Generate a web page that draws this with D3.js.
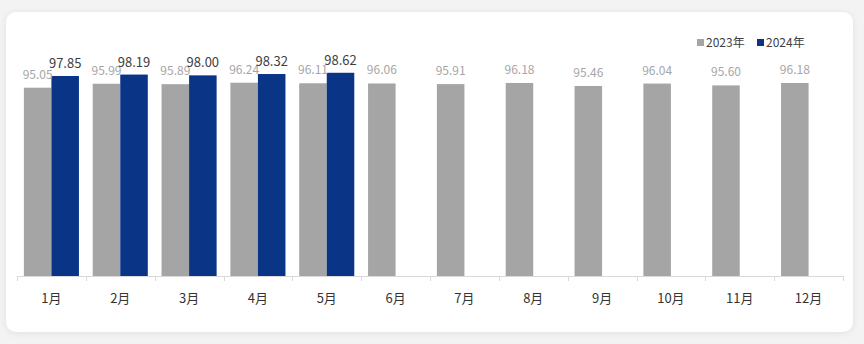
<!DOCTYPE html>
<html>
<head>
<meta charset="utf-8">
<script src="https://cdn.jsdelivr.net/npm/d3@7"></script>
<style>
  html, body { margin: 0; padding: 0; background: #f3f3f3; }
  svg { display: block; }
  text { font-family: "Noto Sans CJK SC", "Microsoft YaHei", sans-serif; }
</style>
</head>
<body>
<svg id="chart" width="864" height="344"></svg>
<script>
// Monthly values, two years
const months = ["1月","2月","3月","4月","5月","6月","7月","8月","9月","10月","11月","12月"];
const seriesNames = ["2023年", "2024年"];
const values2023 = [95.05, 95.99, 95.89, 96.24, 96.11, 96.06, 95.91, 96.18, 95.46, 96.04, 95.60, 96.18];
const values2024 = [97.85, 98.19, 98.00, 98.32, 98.62];
const colors = ["#a5a5a5", "#0a3587"];
const yDomain = [50, 100];

const svg = d3.select("#chart");
const W = 864, H = 344;

// card with soft shadow
const defs = svg.append("defs");
const f = defs.append("filter").attr("id", "shadow").attr("x", "-5%").attr("y", "-10%").attr("width", "110%").attr("height", "120%");
f.append("feDropShadow").attr("dx", 0).attr("dy", 1).attr("stdDeviation", 3).attr("flood-color", "#000").attr("flood-opacity", 0.08);
svg.append("rect").attr("x", 6).attr("y", 12).attr("width", 847).attr("height", 320)
  .attr("rx", 10).attr("fill", "#fff").attr("filter", "url(#shadow)");

const plot = { left: 17, right: 843, top: 67, bottom: 276 };

const x = d3.scaleBand().domain(months).range([plot.left, plot.right]).padding(0);
const xs = d3.scaleBand().domain(seriesNames).range([0, x.bandwidth()]).paddingInner(0).paddingOuter(0.25);
const y = d3.scaleLinear().domain(yDomain).range([plot.bottom, plot.top]);

const data = [values2023, values2024];

// bars
data.forEach((vals, si) => {
  const g = svg.append("g");
  g.selectAll("rect").data(vals).enter().append("rect")
    .attr("x", (d, i) => x(months[i]) + xs(seriesNames[si]))
    .attr("y", d => y(d))
    .attr("width", xs.bandwidth())
    .attr("height", d => y(yDomain[0]) - y(d))
    .attr("fill", colors[si]);
});

// value labels
svg.append("g").selectAll("text").data(values2023).enter().append("text")
  .attr("x", (d, i) => x(months[i]) + xs(seriesNames[0]) + xs.bandwidth() / 2)
  .attr("y", d => y(d) - 9)
  .attr("text-anchor", "middle")
  .attr("font-size", 12)
  .attr("fill", "#a6a6a6")
  .text(d => d.toFixed(2));

svg.append("g").selectAll("text").data(values2024).enter().append("text")
  .attr("x", (d, i) => x(months[i]) + xs(seriesNames[1]) + xs.bandwidth() / 2)
  .attr("y", d => y(d) - 8)
  .attr("text-anchor", "middle")
  .attr("font-size", 13)
  .attr("fill", "#404040")
  .text(d => d.toFixed(2));

// x axis baseline with separators between categories
const axis = svg.append("g");
axis.append("line")
  .attr("x1", plot.left).attr("x2", plot.right)
  .attr("y1", plot.bottom + 0.5).attr("y2", plot.bottom + 0.5)
  .attr("stroke", "#d9d9d9");
const edges = months.map(m => x(m)).concat([plot.right]);
axis.selectAll("line.sep").data(edges).enter().append("line")
  .attr("class", "sep")
  .attr("x1", d => Math.round(d) + 0.5).attr("x2", d => Math.round(d) + 0.5)
  .attr("y1", plot.bottom).attr("y2", plot.bottom + 5)
  .attr("stroke", "#d9d9d9");
axis.selectAll("text").data(months).enter().append("text")
  .attr("x", d => x(d) + x.bandwidth() / 2)
  .attr("y", 303)
  .attr("text-anchor", "middle")
  .attr("font-size", 13)
  .attr("fill", "#333")
  .text(d => d);

// legend
const legendX = [697, 757];
const legend = svg.append("g");
seriesNames.forEach((name, i) => {
  legend.append("rect").attr("x", legendX[i]).attr("y", 39).attr("width", 7).attr("height", 7).attr("fill", colors[i]);
  legend.append("text").attr("x", legendX[i] + 9).attr("y", 46.5)
    .attr("font-size", 12).attr("fill", "#404040").text(name);
});
</script>
</body>
</html>
